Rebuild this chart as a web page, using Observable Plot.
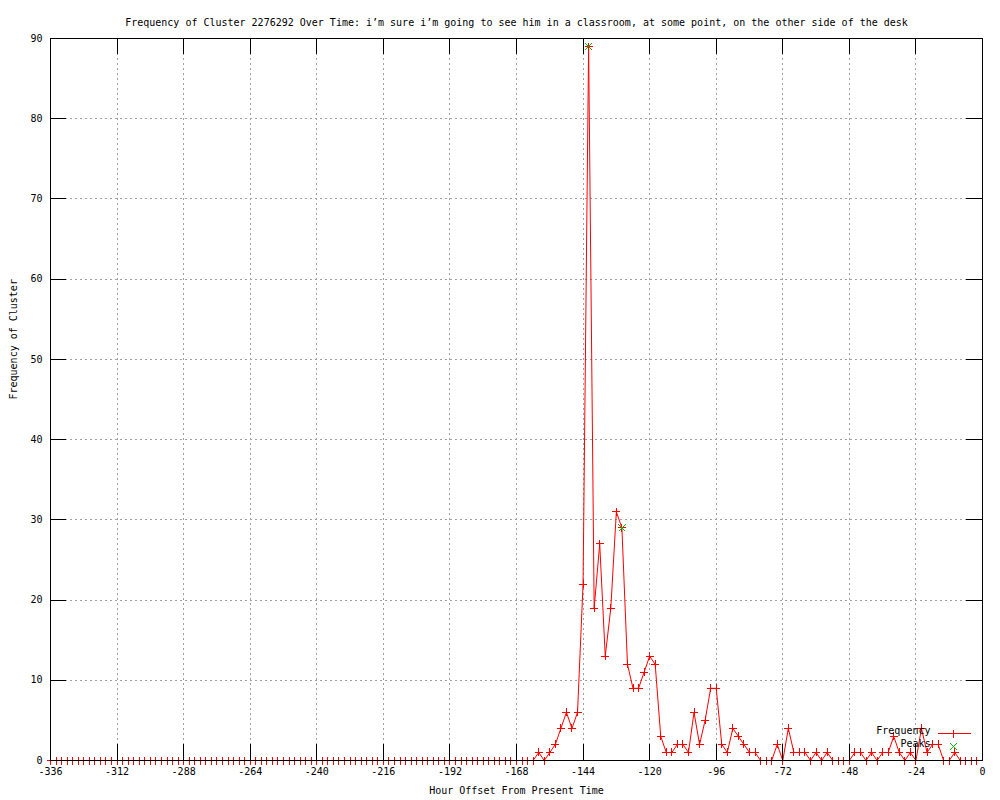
<!DOCTYPE html>
<html><head><meta charset="utf-8">
<script src="https://cdn.jsdelivr.net/npm/d3@7"></script>
<script src="https://cdn.jsdelivr.net/npm/@observablehq/plot@0.6"></script>
<style>html,body{margin:0;padding:0;background:#fff}</style>
</head><body><div id="chart"></div>
<script>
const title = "Frequency of Cluster 2276292 Over Time: i’m sure i’m going to see him in a classroom, at some point, on the other side of the desk";
const xLabel = "Hour Offset From Present Time";
const yLabel = "Frequency of Cluster";
const legendLabels = ["Frequency", "Peaks"];

const hours = [
  -336,-334,-332,-330,-328,-326,-324,-322,-320,-318,-316,-314,
  -312,-310,-308,-306,-304,-302,-300,-298,-296,-294,-292,-290,
  -288,-286,-284,-282,-280,-278,-276,-274,-272,-270,-268,-266,
  -264,-262,-260,-258,-256,-254,-252,-250,-248,-246,-244,-242,
  -240,-238,-236,-234,-232,-230,-228,-226,-224,-222,-220,-218,
  -216,-214,-212,-210,-208,-206,-204,-202,-200,-198,-196,-194,
  -192,-190,-188,-186,-184,-182,-180,-178,-176,-174,-172,-170,
  -168,-166,-164,-162,-160,-158,-156,-154,-152,-150,-148,-146,
  -144,-142,-140,-138,-136,-134,-132,-130,-128,-126,-124,-122,
  -120,-118,-116,-114,-112,-110,-108,-106,-104,-102,-100,-98,
  -96,-94,-92,-90,-88,-86,-84,-82,-80,-78,-76,-74,
  -72,-70,-68,-66,-64,-62,-60,-58,-56,-54,-52,-50,
  -48,-46,-44,-42,-40,-38,-36,-34,-32,-30,-28,-26,
  -24,-22,-20,-18,-16,-14,-12,-10,-8,-6,-4,-2
];
const frequency = [
  0,0,0,0,0,0,0,0,0,0,0,0,
  0,0,0,0,0,0,0,0,0,0,0,0,
  0,0,0,0,0,0,0,0,0,0,0,0,
  0,0,0,0,0,0,0,0,0,0,0,0,
  0,0,0,0,0,0,0,0,0,0,0,0,
  0,0,0,0,0,0,0,0,0,0,0,0,
  0,0,0,0,0,0,0,0,0,0,0,0,
  0,0,0,0,1,0,1,2,4,6,4,6,
  22,89,19,27,13,19,31,29,12,9,9,11,
  13,12,3,1,1,2,2,1,6,2,5,9,
  9,2,1,4,3,2,1,1,0,0,0,2,
  0,4,1,1,1,0,1,0,1,0,0,0,
  0,1,1,0,1,0,1,1,3,1,0,1,
  0,4,1,2,2,0,0,1,0,0,0,0
];
const peakHours = [-142, -130];
const peakValues = [89, 29];

const xTicks = [-336,-312,-288,-264,-240,-216,-192,-168,-144,-120,-96,-72,-48,-24,0];
const yTicks = [0,10,20,30,40,50,60,70,80,90];

const W = 1000, H = 800, ML = 50, MR = 18, MT = 38, MB = 40;
const FW = W - ML - MR, FH = H - MT - MB;
const TICK = 16;
const RED = "#ff0000", GREEN = "#00c000", GRID = "#a0a0a0";
const CRISP = "crispEdges";

const plus = {draw(ctx, size) { const r = Math.sqrt(size / Math.PI); ctx.moveTo(-r, 0); ctx.lineTo(r, 0); ctx.moveTo(0, -r); ctx.lineTo(0, r); }};
const cross = {draw(ctx, size) { const r = Math.sqrt(size / Math.PI); ctx.moveTo(-r, -r); ctx.lineTo(r, r); ctx.moveTo(-r, r); ctx.lineTo(r, -r); }};
// legend sample: line segment with a "+" in its middle
const sample = {draw(ctx, size) { const r = Math.sqrt(size / Math.PI); ctx.moveTo(-16, 0); ctx.lineTo(17, 0); ctx.moveTo(0, -r); ctx.lineTo(0, r); }};

const data = hours.map((h, i) => ({hour: h, freq: frequency[i]}));
const peaks = peakHours.map((h, i) => ({hour: h, freq: peakValues[i]}));
const xInner = xTicks.filter(d => d > -336 && d < 0);
const yInner = yTicks.filter(d => d > 0 && d < 90);

const chart = Plot.plot({
  width: W, height: H,
  marginLeft: ML, marginRight: MR, marginTop: MT, marginBottom: MB,
  style: {fontFamily: "'DejaVu Sans Mono', monospace", fontSize: "10px", background: "#fff", color: "#000"},
  x: {domain: [-336, 0]},
  y: {domain: [0, 90]},
  marks: [
    Plot.gridX(xInner, {stroke: GRID, strokeOpacity: 1, strokeDasharray: "2,3", shapeRendering: CRISP}),
    Plot.gridY(yInner, {stroke: GRID, strokeOpacity: 1, strokeDasharray: "2,3", shapeRendering: CRISP}),
    Plot.axisX(xTicks, {tickSize: 0, tickPadding: 7, tickFormat: d => String(d), label: null}),
    Plot.axisY(yTicks, {tickSize: 0, tickPadding: 8, tickFormat: d => String(d), label: null}),
    Plot.line(data, {x: "hour", y: "freq", stroke: RED, strokeWidth: 1}),
    Plot.dot(data, {x: "hour", y: "freq", symbol: plus, r: 4, stroke: RED, fill: "none", strokeWidth: 1, shapeRendering: CRISP}),
    Plot.dot(peaks, {x: "hour", y: "freq", symbol: cross, r: 3.5, stroke: GREEN, fill: "none", strokeWidth: 1, shapeRendering: CRISP}),
    // inward tick marks on all four sides
    Plot.tickX(xInner, {x: d => d, insetTop: FH - TICK, stroke: "#000", strokeWidth: 1, shapeRendering: CRISP}),
    Plot.tickX(xInner, {x: d => d, insetBottom: FH - TICK, stroke: "#000", strokeWidth: 1, shapeRendering: CRISP}),
    Plot.tickY(yInner, {y: d => d, insetRight: FW - TICK, stroke: "#000", strokeWidth: 1, shapeRendering: CRISP}),
    Plot.tickY(yInner, {y: d => d, insetLeft: FW - TICK, stroke: "#000", strokeWidth: 1, shapeRendering: CRISP}),
    Plot.frame({stroke: "#000", shapeRendering: CRISP}),
    Plot.text([title], {frameAnchor: "top", dy: -20, fill: "#000"}),
    Plot.text([xLabel], {frameAnchor: "bottom", dy: 33, fill: "#000"}),
    Plot.text([yLabel], {frameAnchor: "left", dx: -37, rotate: -90, fill: "#000"}),
    // legend
    Plot.text([legendLabels[0]], {frameAnchor: "bottom-right", dx: -52, dy: -27, textAnchor: "end", fill: "#000"}),
    Plot.text([legendLabels[1]], {frameAnchor: "bottom-right", dx: -52, dy: -14, textAnchor: "end", fill: "#000"}),
    Plot.dot([legendLabels[0]], {frameAnchor: "bottom-right", dx: -29, dy: -27, symbol: sample, r: 4, stroke: RED, fill: "none", strokeWidth: 1, shapeRendering: CRISP}),
    Plot.dot([legendLabels[1]], {frameAnchor: "bottom-right", dx: -29, dy: -14, symbol: cross, r: 3.5, stroke: GREEN, fill: "none", strokeWidth: 1, shapeRendering: CRISP})
  ]
});
document.getElementById("chart").appendChild(chart);
</script>
</body></html>
